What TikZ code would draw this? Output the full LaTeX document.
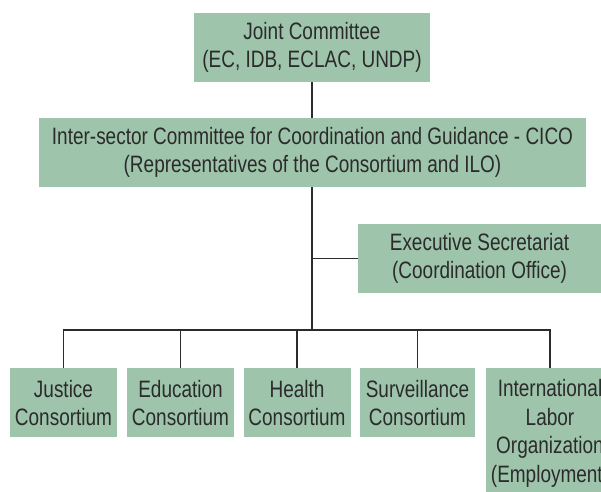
\documentclass[tikz,border=0pt]{standalone}
\usepackage{fontspec}
\setmainfont{Liberation Sans}[FakeStretch=0.8]
\usepackage{tikz}
\usepackage{xcolor}
\definecolor{boxgreen}{HTML}{9EC5AB}
\definecolor{txtgray}{HTML}{2B2B2B}

\begin{document}
\begin{tikzpicture}[
	box/.style={fill=boxgreen, text=txtgray, align=center, inner sep=0pt, minimum height=1.38cm},
	link/.style={draw=txtgray, line width=0.75pt}]
	\fontsize{13.5}{16.3}\selectfont
	\useasboundingbox (0,0) rectangle (12.02,-9.82);
	\clip (0,0) rectangle (12.02,-9.82);
	\node[box, minimum width=4.72cm] (joint) at (6.24,-0.95) {Joint Committee\\(EC, IDB, ECLAC, UNDP)};
	\node[box, minimum width=10.94cm] (cico) at (6.25,-3.05) {Inter-sector Committee for Coordination and Guidance - CICO\\(Representatives of the Consortium and ILO)};
	\node[box, minimum width=4.86cm] (exec) at (9.59,-5.17) {Executive Secretariat\\(Coordination Office)};
	\node[box, anchor=north, minimum width=2.14cm] (justice) at (1.27,-7.36) {Justice\\Consortium};
	\node[box, anchor=north, minimum width=2.14cm] (education) at (3.61,-7.36) {Education\\Consortium};
	\node[box, anchor=north, minimum width=2.14cm] (health) at (5.94,-7.36) {Health\\Consortium};
	\node[box, anchor=north, minimum width=2.30cm] (surveil) at (8.35,-7.36) {Surveillance\\Consortium};
	\node[box, anchor=north, minimum width=2.56cm, inner ysep=0.22cm] (ilo) at (11.0,-7.36) {International\\Labor\\Organization\\(Employment)};
	\coordinate (bus) at (6.24,-6.6);
	\draw[link] (joint.south) -- (joint.south |- cico.north);
	\draw[link] (cico.south -| bus) -- (bus);
	\draw[link] (exec.west) -- (exec.west -| bus);
	\foreach \n in {justice,education,health,surveil,ilo}
		\draw[link] (\n.north) |- (bus);
\end{tikzpicture}
\end{document}
